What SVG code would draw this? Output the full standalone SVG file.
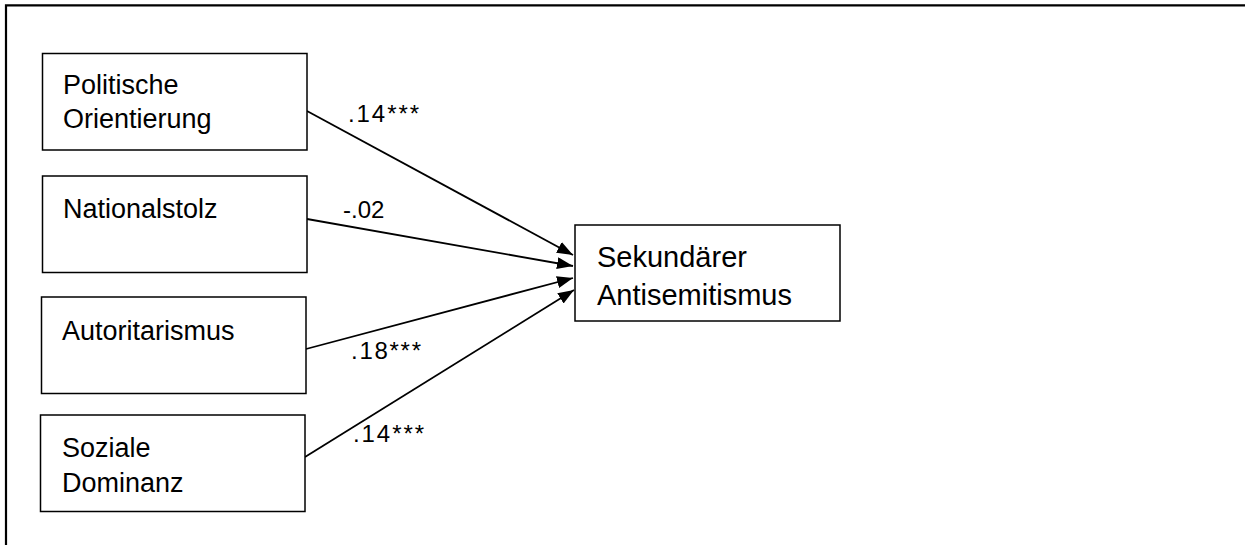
<svg xmlns="http://www.w3.org/2000/svg" width="1245" height="545" viewBox="0 0 1245 545">
  <style>
    .box { fill: #ffffff; stroke: #000000; stroke-width: 1.5; }
    .lbl { font-family: "Liberation Sans", Arial, sans-serif; font-size: 27px; fill: #000000; }
    .big { font-family: "Liberation Sans", Arial, sans-serif; font-size: 29px; fill: #000000; }
    .coef { font-family: "Liberation Sans", Arial, sans-serif; font-size: 24px; fill: #000000; }
    .conn { stroke: #000000; stroke-width: 1.8; fill: none; marker-end: url(#arrow); }
    .frame { stroke: #000000; stroke-width: 2.2; fill: none; }
  </style>
  <defs>
    <marker id="arrow" viewBox="0 0 16 12" refX="16" refY="6" markerWidth="16" markerHeight="12" markerUnits="userSpaceOnUse" orient="auto">
      <path d="M0,0 L16,6 L0,12 z" fill="#000000"/>
    </marker>
  </defs>
  <rect width="1245" height="545" fill="#ffffff"/>
  <g id="frame">
    <path class="frame" d="M6,545 L6,5.3 L1245,5.3"/>
  </g>
  <g id="connectors">
    <line class="conn" x1="307" y1="111" x2="573" y2="255"/>
    <line class="conn" x1="307" y1="219" x2="573" y2="266"/>
    <line class="conn" x1="306" y1="349" x2="573" y2="278"/>
    <line class="conn" x1="305" y1="457" x2="574" y2="290"/>
    <text class="coef" x="348" y="122" textLength="71" lengthAdjust="spacing">.14***</text>
    <text class="coef" x="343" y="218">-.02</text>
    <text class="coef" x="351" y="359" textLength="70" lengthAdjust="spacing">.18***</text>
    <text class="coef" x="353" y="442" textLength="71" lengthAdjust="spacing">.14***</text>
  </g>
  <g id="node-politische">
    <rect class="box" x="42.5" y="53.5" width="264.5" height="96.5"/>
    <text class="lbl" x="63" y="94">Politische</text>
    <text class="lbl" x="63" y="128">Orientierung</text>
  </g>
  <g id="node-nationalstolz">
    <rect class="box" x="42.5" y="176" width="264.5" height="96.5"/>
    <text class="lbl" x="63" y="218">Nationalstolz</text>
  </g>
  <g id="node-autoritarismus">
    <rect class="box" x="41.5" y="297" width="264.5" height="96.5"/>
    <text class="lbl" x="62" y="340">Autoritarismus</text>
  </g>
  <g id="node-soziale">
    <rect class="box" x="40.5" y="415" width="264.5" height="96.5"/>
    <text class="lbl" x="62" y="457">Soziale</text>
    <text class="lbl" x="62" y="492">Dominanz</text>
  </g>
  <g id="node-sekundaer">
    <rect class="box" x="575" y="225" width="265" height="96"/>
    <text class="big" x="597" y="267">Sekundärer</text>
    <text class="big" x="597" y="305">Antisemitismus</text>
  </g>
</svg>
